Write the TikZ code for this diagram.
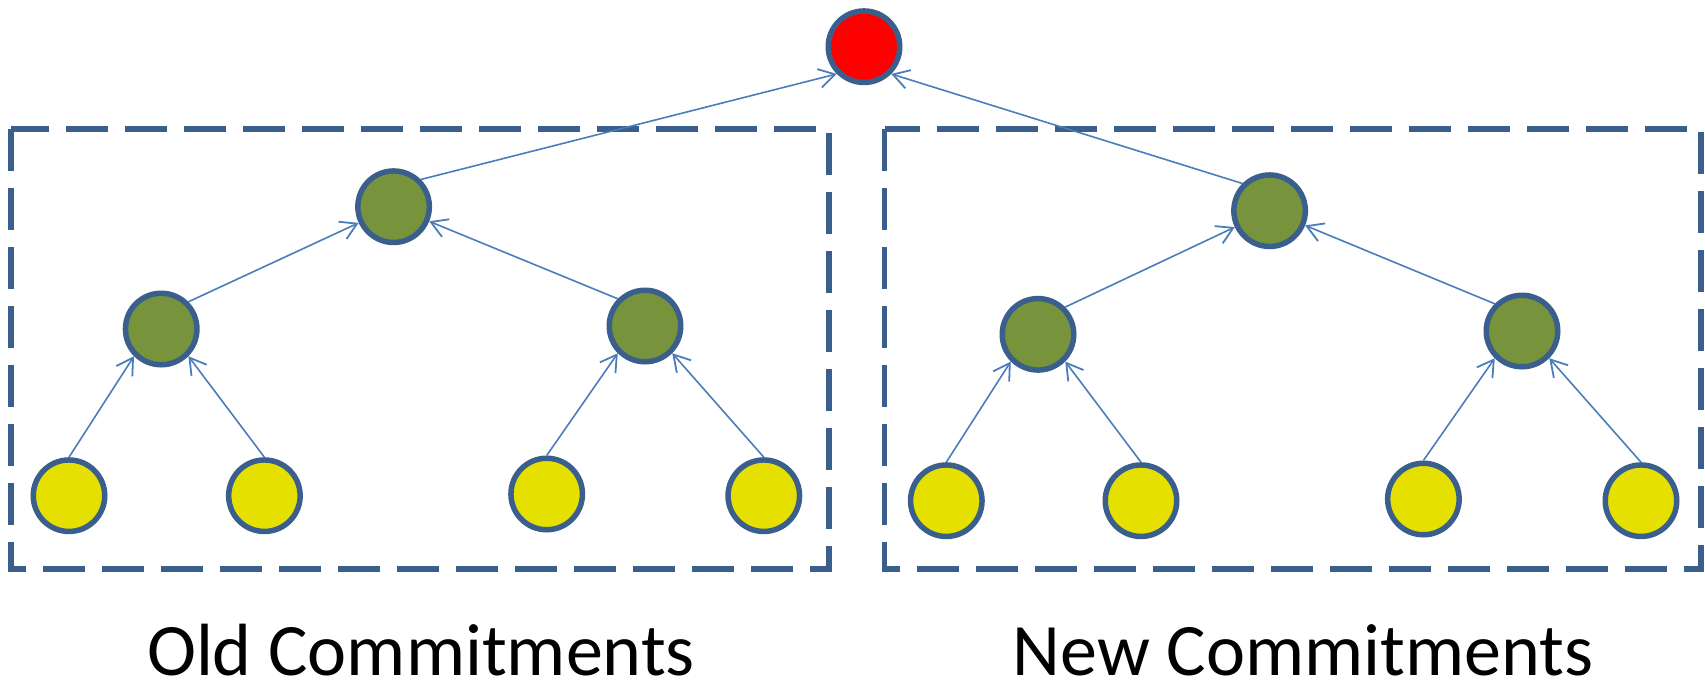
\documentclass[tikz,border=0pt]{standalone}
\usepackage{fontspec}
\setmainfont{Carlito}
\usetikzlibrary{arrows.meta}
\definecolor{rimblue}{HTML}{3A5F8D}
\definecolor{linkblue}{HTML}{4A7EBB}
\definecolor{leafgreen}{HTML}{77933C}
\definecolor{leafyellow}{HTML}{E5E000}
\definecolor{rootred}{HTML}{FF0000}
\tikzset{
  vert/.style={circle, draw=rimblue, line width=2.75pt, minimum size=35.75pt, inner sep=0pt},
  rootnode/.style={vert, fill=rootred},
  inner/.style={vert, fill=leafgreen},
  leaf/.style={vert, fill=leafyellow},
  link/.style={draw=linkblue, line width=0.8pt, -{Straight Barb[length=8pt,width=9.5pt,line width=0.9pt]}},
  group/.style={draw=rimblue, line width=2.6pt, dash pattern=on 21pt off 8.5pt},
  caption/.style={font=\fontsize{37}{44}\selectfont, anchor=base, inner sep=0pt}
}
\begin{document}
\begin{tikzpicture}[x=0.5pt, y=-0.5pt]
\useasboundingbox (0,0) rectangle (1705,682);

% groups
\draw[group] (11,129) rectangle (829,569);
\draw[group] (884.5,129) rectangle (1701,569);

% root
\node[rootnode] (r) at (864,46.7) {};

% old subtree
\node[inner] (o) at (393.6,206.7) {};
\node[inner] (oa) at (161.2,329) {};
\node[inner] (ob) at (645,326) {};
\node[leaf] (oa1) at (69,495.7) {};
\node[leaf] (oa2) at (264.4,495.7) {};
\node[leaf] (ob1) at (546.7,494) {};
\node[leaf] (ob2) at (763.8,495.7) {};

% new subtree
\node[inner] (n) at (1269.6,210.7) {};
\node[inner] (na) at (1038,334.3) {};
\node[inner] (nb) at (1522,331) {};
\node[leaf] (na1) at (946.3,500.7) {};
\node[leaf] (na2) at (1141,500.7) {};
\node[leaf] (nb1) at (1423.4,499) {};
\node[leaf] (nb2) at (1641,500.7) {};

% links
\draw[link] (o.45) -- (r.225);
\draw[link] (n.135) -- (r.315);

\draw[link] (oa.45) -- (o);
\draw[link] (ob.135) -- (o);
\draw[link] (oa1.north) -- (oa.225);
\draw[link] (oa2.north) -- (oa.315);
\draw[link] (ob1.north) -- (ob.225);
\draw[link] (ob2.north) -- (ob.315);

\draw[link] (na.45) -- (n);
\draw[link] (nb.135) -- (n);
\draw[link] (na1.north) -- (na.225);
\draw[link] (na2.north) -- (na.315);
\draw[link] (nb1.north) -- (nb.225);
\draw[link] (nb2.north) -- (nb.315);

% captions
\node[caption] (oldcap) at (421,675) {Old Commitments};
\node[caption] (newcap) at (1303,675) {New Commitments};
\end{tikzpicture}
\end{document}
